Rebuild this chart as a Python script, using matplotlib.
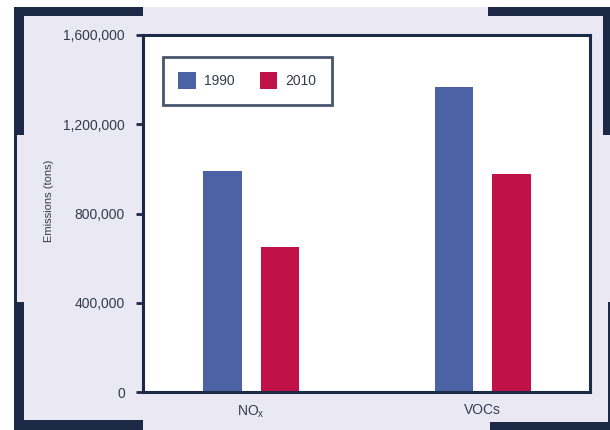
import matplotlib
matplotlib.use('Agg')
import matplotlib.pyplot as plt
from matplotlib.patches import Rectangle, Patch
from matplotlib.ticker import StrMethodFormatter

# Emisiones por contaminante
categories = ['NO$_\\mathregular{x}$', 'VOCs']
years = ['1990', '2010']
emissions_1990 = [990000, 1365000]
emissions_2010 = [650000, 975000]
yticks = [0, 400000, 800000, 1200000, 1600000]

navy = '#1c2a48'
lavender = '#eae9f3'
text_color = '#333b4c'
bar_colors = ['#4b63a5', '#c01149']

plt.rcParams['font.family'] = ['Liberation Sans', 'DejaVu Sans']
plt.rcParams['mathtext.fontset'] = 'custom'
plt.rcParams['mathtext.rm'] = 'Liberation Sans'

W, H = 610, 430
fig = plt.figure(figsize=(W / 100, H / 100), dpi=100, facecolor='white')


def frame_rect(x0, y0, x1, y1, color):
    # rectangulo en pixeles (origen arriba a la izquierda)
    fig.add_artist(Rectangle((x0 / W, 1 - y1 / H), (x1 - x0) / W, (y1 - y0) / H,
                             transform=fig.transFigure, facecolor=color,
                             edgecolor='none', zorder=-5))


# marco decorativo
frame_rect(14, 7, 610, 430, lavender)
frame_rect(14, 7, 17, 430, navy)
frame_rect(14, 7, 143, 16, navy)
frame_rect(14, 7, 24, 135, navy)
frame_rect(14, 302, 24, 430, navy)
frame_rect(14, 420, 143, 430, navy)
frame_rect(488, 7, 610, 16, navy)
frame_rect(603, 7, 610, 135, navy)
frame_rect(608, 302, 610, 430, navy)
frame_rect(490, 422, 610, 430, navy)

ax = fig.add_axes([143 / W, 1 - 392 / H, (590 - 143) / W, (392 - 35) / H])
ax.set_facecolor('white')

x = range(len(categories))
width = 0.165
offset = 0.124
ax.bar([i - offset for i in x], emissions_1990, width, color=bar_colors[0], label=years[0])
ax.bar([i + offset for i in x], emissions_2010, width, color=bar_colors[1], label=years[1])

ax.set_xlim(-0.467, 1.463)
ax.set_ylim(0, 1600000)
ax.set_yticks(yticks)
ax.yaxis.set_major_formatter(StrMethodFormatter('{x:,.0f}'))
ax.set_xticks(list(x))
ax.set_xticklabels(categories)

for spine in ax.spines.values():
    spine.set_color(navy)
    spine.set_linewidth(2.2)

ax.tick_params(axis='y', length=5, width=2, color=navy, pad=8,
               labelsize=10, labelcolor=text_color)
ax.tick_params(axis='x', length=0, pad=8, labelsize=10, labelcolor=text_color)

ax.set_ylabel('Emissions (tons)', fontsize=8, color=text_color)
ax.yaxis.set_label_coords(-0.200, 0.535)

handles = [Patch(facecolor=c, edgecolor='none') for c in bar_colors]
leg = ax.legend(handles, years, ncol=2, loc='upper left',
                bbox_to_anchor=(0.0447, 0.938), borderaxespad=0,
                fontsize=10, frameon=True, fancybox=False,
                edgecolor=navy, handlelength=1.25, handleheight=1.5,
                handletextpad=0.6, columnspacing=1.8, borderpad=1.1)
leg.get_frame().set_linewidth(2)
for t in leg.get_texts():
    t.set_color(text_color)

fig.savefig('out.png', dpi=100, facecolor='white')
